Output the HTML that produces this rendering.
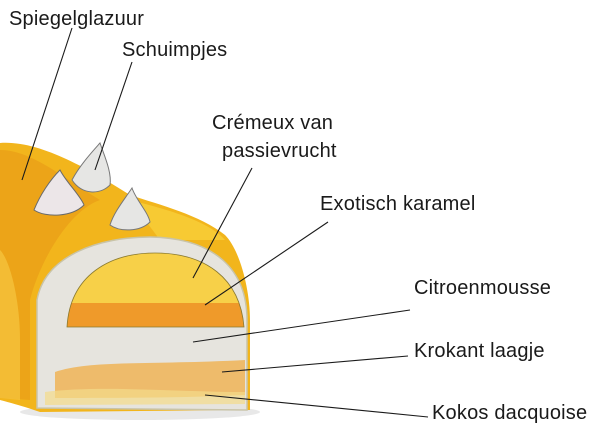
<!DOCTYPE html>
<html><head><meta charset="utf-8"><style>
html,body{margin:0;padding:0;background:#fff;width:609px;height:431px;overflow:hidden}
text{font-family:"Liberation Sans","DejaVu Sans",sans-serif;font-size:20px;fill:#1a1a1a;letter-spacing:0.2px}
</style></head><body>
<svg width="609" height="431" viewBox="0 0 609 431" xmlns="http://www.w3.org/2000/svg">
<defs><clipPath id="dome"><path d="M67,327 C70,275 110,253 155,253 C205,253 240,278 244,327 Z"/></clipPath></defs>
<ellipse cx="140" cy="412" rx="120" ry="8" fill="#d8d8d8" opacity="0.6"/>
<path d="M0,143 C40,140 90,170 130,195 C160,205 200,215 225,235 C240,250 250,290 250,320 L250,410 L40,412 C20,405 0,400 0,400 Z" fill="#f2b51c"/>
<path d="M0,150 C30,150 60,175 100,200 C70,210 40,260 30,300 L30,400 L0,398 Z" fill="#e89a16" opacity="0.6"/>
<path d="M0,250 C10,260 20,300 20,340 L20,400 L0,398 Z" fill="#f6c640" opacity="0.7"/>
<path d="M130,200 C170,210 210,222 225,240 L160,240 Z" fill="#f8cf3a" opacity="0.8"/>
<path d="M37,408 L37,300 C45,255 100,237 150,237 C215,238 247,270 247,320 L247,410 Z" fill="#e6e4de" stroke="#c9c4a8" stroke-width="1.5"/>
<g clip-path="url(#dome)">
<rect x="60" y="250" width="190" height="80" fill="#f7d048"/>
<rect x="60" y="303" width="190" height="30" fill="#ef9a2a"/>
</g>
<path d="M67,327 C70,275 110,253 155,253 C205,253 240,278 244,327 Z" fill="none" stroke="#8a7a30" stroke-width="0.8"/>
<path d="M55,372 C90,360 150,365 245,360 L245,395 C180,398 110,398 55,398 Z" fill="#eeb457" opacity="0.85"/>
<path d="M45,392 C100,385 180,392 245,392 L245,404 L45,405 Z" fill="#f3dc8a" opacity="0.7"/>
<path d="M34,210 C40,195 50,180 60,170 C66,182 80,195 84,205 C72,217 46,218 34,210 Z" fill="#ece6e8" stroke="#6a6a6a" stroke-width="1"/>
<path d="M72,180 C80,165 92,152 100,143 C104,155 112,172 110,185 C100,195 82,195 72,180 Z" fill="#e6e6e4" stroke="#777" stroke-width="1"/>
<path d="M110,225 C114,212 124,200 132,188 C136,200 148,212 150,222 C140,232 120,232 110,225 Z" fill="#e6e6e4" stroke="#777" stroke-width="1"/>
<g stroke="#1a1a1a" stroke-width="1.1">
<line x1="72" y1="28" x2="22" y2="180"/>
<line x1="132" y1="62" x2="95" y2="170"/>
<line x1="252" y1="168" x2="193" y2="278"/>
<line x1="328" y1="222" x2="205" y2="305"/>
<line x1="410" y1="310" x2="193" y2="342"/>
<line x1="408" y1="356" x2="222" y2="372"/>
<line x1="428" y1="417" x2="205" y2="395"/>
</g>
<text x="9" y="25">Spiegelglazuur</text>
<text x="122" y="56">Schuimpjes</text>
<text x="212" y="129">Crémeux van</text>
<text x="222" y="157">passievrucht</text>
<text x="320" y="210">Exotisch karamel</text>
<text x="414" y="294">Citroenmousse</text>
<text x="414" y="357">Krokant laagje</text>
<text x="432" y="419">Kokos dacquoise</text>
</svg>
</body></html>
